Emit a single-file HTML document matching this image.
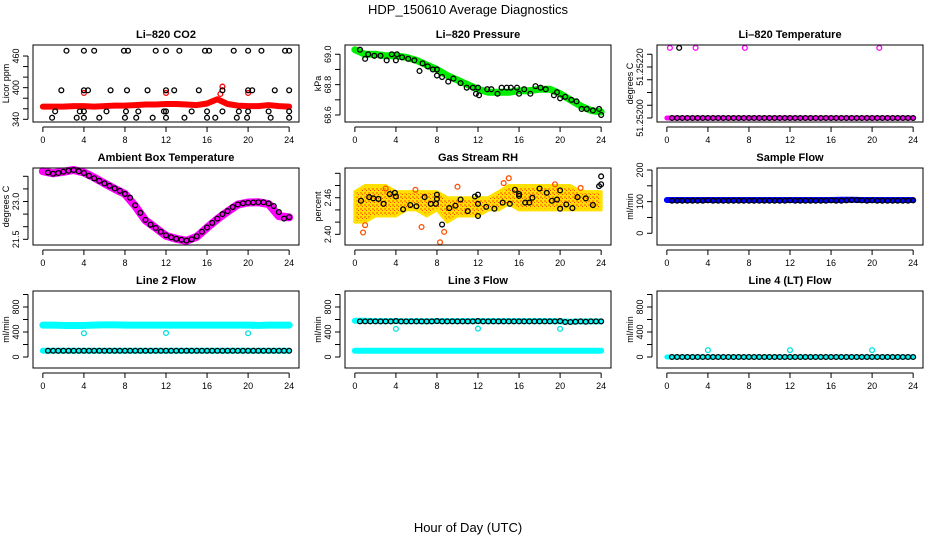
<!DOCTYPE html>
<html><head><meta charset="utf-8"><style>
body{margin:0;background:#fff}
svg text{font-family:"Liberation Sans",Arial,sans-serif}
</style></head><body>
<svg id="chart" width="936" height="540" viewBox="0 0 936 540" xmlns="http://www.w3.org/2000/svg">
<defs>
<pattern id="rhpat" width="4" height="4" patternUnits="userSpaceOnUse"><rect width="4" height="4" fill="#ffe000"/><rect x="0" y="0" width="2" height="2" fill="#ff9a00"/><rect x="2" y="2" width="1" height="1" fill="#ff4000"/></pattern>
</defs>
<text x="468" y="14" font-size="13" text-anchor="middle">HDP_150610  Average Diagnostics</text>
<text x="468" y="532" font-size="13" text-anchor="middle">Hour of Day (UTC)</text>
</svg>
<script>
// shared x categories
const bandHours=[0,1,2,3,4,5,6,7,8,9,10,11,12,13,14,15,16,17,18,19,20,21,22,23,24];
const halfHours=[0.5,1,1.5,2,2.5,3,3.5,4,4.5,5,5.5,6,6.5,7,7.5,8,8.5,9,9.5,10,10.5,11,11.5,12,12.5,13,13.5,14,14.5,15,15.5,16,16.5,17,17.5,18,18.5,19,19.5,20,20.5,21,21.5,22,22.5,23,23.5,24];
const xTicks=[0,4,8,12,16,20,24];
// CO2
const co2Band=[364,364,364,365,365,364,365,366,366,367,368,368,369,369,368,367,370,378,369,366,365,365,367,365,364];
const co2RedHours=[4,12,17.3,17.5,20];
const co2RedVals=[390,390,388,402,390];
const co2BlackHours=[2.3,4,5,7.9,8.3,11,12,13.3,15.8,16.2,18.6,20,21.3,23.6,24,1.8,4,4.4,6.6,8.2,10.2,12,12.8,15.2,17.5,20,20.4,22.6,24,1.2,3.6,4,6.2,8.1,9.3,11.8,12,14.5,16,17.5,19.1,20,22,24,0.9,3.3,4,5.5,8,9.1,10.7,12,13.8,16,16.8,18.9,19.9,22.2,24];
const co2BlackVals=[470,470,470,470,470,470,470,470,470,470,470,470,470,470,470,395,395,395,395,395,395,395,395,395,395,395,395,395,395,355,355,355,355,355,355,355,355,355,355,355,355,355,355,355,343,343,343,343,343,343,343,343,343,343,343,343,343,343,343];
// Pressure
const presBand=[69.03,69.0,69.0,68.99,68.99,68.98,68.96,68.93,68.90,68.86,68.83,68.80,68.77,68.75,68.75,68.75,68.76,68.76,68.77,68.77,68.74,68.70,68.66,68.63,68.62];
const presBlackHours=[0.5,1,1.3,1.9,2.5,3.1,3.6,4,4.1,4.6,5.2,5.8,6.3,6.6,7.1,7.6,8,8,8.5,9.1,9.6,10.3,10.9,11.5,12,11.8,12.1,12.9,13.3,13.9,14.3,14.8,15.2,15.8,16,16.5,17.1,17.6,18.1,18.6,19.4,19.7,20,20.5,21.1,21.6,22.1,22.6,23.2,23.8,24];
const presBlackVals=[69.03,68.97,69.0,68.99,68.99,68.96,69.0,68.96,69.0,68.98,68.97,68.96,68.89,68.94,68.92,68.9,68.86,68.9,68.85,68.82,68.84,68.81,68.78,68.78,68.78,68.74,68.73,68.77,68.77,68.74,68.78,68.78,68.78,68.78,68.74,68.77,68.74,68.79,68.78,68.77,68.73,68.75,68.71,68.72,68.7,68.69,68.64,68.64,68.63,68.64,68.6];
// Li-820 temperature
const tempBand=[51.252,51.252,51.252,51.252,51.252,51.252,51.252,51.252,51.252,51.252,51.252,51.252,51.252,51.252,51.252,51.252,51.252,51.252,51.252,51.252,51.252,51.252,51.252,51.252,51.252];
const tempPinkHours=[0.3,2.8,7.6,20.7];
const tempPinkVals=[51.252275,51.252275,51.252275,51.252275];
const tempBlackHours=[1.2];
const tempBlackVals=[51.252275];
const tempHalfVals=[51.252,51.252,51.252,51.252,51.252,51.252,51.252,51.252,51.252,51.252,51.252,51.252,51.252,51.252,51.252,51.252,51.252,51.252,51.252,51.252,51.252,51.252,51.252,51.252,51.252,51.252,51.252,51.252,51.252,51.252,51.252,51.252,51.252,51.252,51.252,51.252,51.252,51.252,51.252,51.252,51.252,51.252,51.252,51.252,51.252,51.252,51.252,51.252];
// Ambient box temperature
const ambBand=[24.2,24.12,24.18,24.25,24.15,23.95,23.72,23.5,23.3,22.82,22.25,21.95,21.64,21.52,21.44,21.6,21.96,22.3,22.6,22.88,22.96,22.97,22.9,22.42,22.37];
const ambBlack=[24.15,24.1,24.13,24.18,24.22,24.25,24.2,24.13,24.02,23.92,23.82,23.72,23.62,23.52,23.42,23.3,23.15,22.85,22.55,22.27,22.08,21.95,21.8,21.66,21.58,21.52,21.48,21.45,21.5,21.62,21.8,21.97,22.15,22.32,22.5,22.62,22.78,22.88,22.93,22.95,22.96,22.97,22.97,22.92,22.82,22.58,22.32,22.38];
// Gas stream RH
const rhLow=[2.42,2.42,2.43,2.43,2.43,2.44,2.44,2.43,2.44,2.42,2.43,2.43,2.43,2.44,2.44,2.45,2.44,2.44,2.44,2.44,2.44,2.44,2.44,2.44,2.44];
const rhHigh=[2.47,2.48,2.48,2.48,2.47,2.47,2.47,2.47,2.47,2.46,2.46,2.46,2.46,2.46,2.47,2.48,2.48,2.48,2.48,2.48,2.48,2.48,2.47,2.47,2.47];
const rhOrangeHours=[0.8,8.3,8.7,15.0,3.0,5.9,10.0,14.5,1.0,6.5,19.5,22.0];
const rhOrangeVals=[2.403,2.387,2.404,2.492,2.475,2.473,2.478,2.484,2.415,2.412,2.482,2.476];
const rhBlackHours=[0.6,1.4,1.8,2.3,2.8,3.4,3.9,4,4.7,5.4,6,6.8,7.4,7.9,8,8,8.5,9.2,9.8,10.3,11,11.7,12,12,12,12.8,13.6,14.4,15.1,15.6,16,16,16.6,17,17.3,18,18.7,19.2,19.7,20,20,20.6,21.2,21.7,22.5,23.2,23.8,24,24];
const rhBlackVals=[2.455,2.461,2.459,2.458,2.45,2.466,2.468,2.462,2.441,2.448,2.446,2.461,2.45,2.45,2.458,2.465,2.416,2.443,2.447,2.457,2.438,2.462,2.465,2.45,2.43,2.445,2.442,2.452,2.45,2.473,2.466,2.463,2.452,2.452,2.46,2.475,2.468,2.455,2.457,2.472,2.442,2.449,2.443,2.461,2.459,2.448,2.479,2.482,2.495];
// Sample flow
const sampBand=[105,105,105,105,105,105,105,105,105,105,105,105,105,105,105,105,105,106,106,105,105,105,105,105,105];
const sampBlack=[103,103,103,103,103,103,103,104,103,103,103,103,103,103,103,103,103,103,103,103,103,103,103,104,103,103,103,103,103,103,103,104,103,103,104,105,105,104,103,104,103,103,103,103,103,103,103,104];
// Line flows
const l2BandHi=[510,510,505,505,505,510,515,515,510,510,510,510,510,510,510,510,510,510,510,510,510,505,510,510,510];
const l2BandLo=[100,100,100,100,100,100,100,100,100,100,100,100,100,100,100,100,100,100,100,100,100,100,100,100,100];
const l2CyanHours=[4,12,20];
const l2CyanVals=[380,385,380];
const l2Black=[100,100,100,100,100,100,100,100,100,100,100,100,100,100,100,100,100,100,100,100,100,100,100,100,100,100,100,100,100,100,100,100,100,100,100,100,100,100,100,100,100,100,100,100,100,100,100,100];
const l3BandHi=[580,580,575,575,575,570,575,570,575,575,575,575,575,575,575,575,575,575,575,575,570,565,570,570,570];
const l3BandLo=[100,100,100,100,100,100,100,100,100,100,100,100,100,100,100,100,100,100,100,100,100,100,100,100,100];
const l3CyanHours=[4,12,20];
const l3CyanVals=[450,455,450];
const l3Black=[570,570,570,570,570,570,570,575,570,570,570,570,570,570,570,575,570,570,570,570,570,570,570,575,570,570,570,570,570,570,570,570,570,570,570,570,570,570,570,575,560,560,565,570,565,570,570,570];
const l4Band=[0,0,0,0,0,0,0,0,0,0,0,0,0,0,0,0,0,0,0,0,0,0,0,0,0];
const l4CyanHours=[4,12,20];
const l4CyanVals=[110,110,110];
const l4Black=[0,0,0,0,0,0,0,0,0,0,0,0,0,0,0,0,0,0,0,0,0,0,0,0,0,0,0,0,0,0,0,0,0,0,0,0,0,0,0,0,0,0,0,0,0,0,0,0];

const NS="http://www.w3.org/2000/svg";
const svg=document.getElementById('chart');
function mk(tag,attrs,parent){const e=document.createElementNS(NS,tag);for(const k in attrs)e.setAttribute(k,attrs[k]);(parent||svg).appendChild(e);return e;}

function panel(cfg){
  const x0=33+312*cfg.col, x1=299+312*cfg.col, y0=45+123*cfg.row, y1=122+123*cfg.row;
  const g=mk('g',{});
  
  
  const sx=h=>x0+(h+0.96)/25.92*(x1-x0);
  const sy=v=>y1-(v-cfg.ymin)/(cfg.ymax-cfg.ymin)*(y1-y0);
  const t=mk('text',{x:(x0+x1)/2,y:y0-7,'font-size':11,'font-weight':'bold','text-anchor':'middle'},g);
  t.textContent=cfg.title;
  
  
  const clip=mk('g',{},g);
  cfg.draw(clip,sx,sy);
  const box=mk('rect',{x:x0,y:y0,width:x1-x0,height:y1-y0,fill:'none',stroke:'#000','stroke-width':1},g);
  
  
  const xa=mk('g',{},g);
  
  
  mk('line',{x1:sx(xTicks[0]),x2:sx(xTicks[xTicks.length-1]),y1:y1+5,y2:y1+5,stroke:'#000'},xa);
  xTicks.forEach(v=>{
    mk('line',{x1:sx(v),x2:sx(v),y1:y1+5,y2:y1+10,stroke:'#000'},xa);
    const l=mk('text',{x:sx(v),y:y1+21,'font-size':9,'text-anchor':'middle'},xa);
    l.textContent=v;
  });
  const ya=mk('g',{},g);
  
  
  const ax=x0-5;
  mk('line',{x1:ax,x2:ax,y1:sy(cfg.yTicks[0]),y2:sy(cfg.yTicks[cfg.yTicks.length-1]),stroke:'#000'},ya);
  cfg.yTicks.forEach(v=>mk('line',{x1:ax-5,x2:ax,y1:sy(v),y2:sy(v),stroke:'#000'},ya));
  cfg.yLabels.forEach((v,i)=>{
    const yy=sy(v);
    const l=mk('text',{x:ax-9,y:yy,'font-size':9,'text-anchor':'middle',transform:`rotate(-90 ${ax-9} ${yy})`},ya);
    l.textContent=cfg.yLabelText[i];
  });
  const yt=mk('text',{x:x0-24,y:(y0+y1)/2,'font-size':9,'text-anchor':'middle',transform:`rotate(-90 ${x0-24} ${(y0+y1)/2})`},ya);
  yt.textContent=cfg.ylab;
  
  
}
function band(g,sx,sy,hours,vals,color,w,name){
  const p=mk('polyline',{points:hours.map((h,i)=>sx(h)+','+sy(vals[i])).join(' '),fill:'none',stroke:color,'stroke-width':w,'stroke-linejoin':'round','stroke-linecap':'round'},g);
  
  
}
function pts(g,sx,sy,hours,vals,color,name){
  const gg=mk('g',{},g);
  
  
  hours.forEach((h,i)=>{mk('circle',{cx:sx(h),cy:sy(vals[i]),r:2.4,fill:'none',stroke:color,'stroke-width':1.3},gg);});
}

panel({name:'co2-panel',col:0,row:0,title:'Li\u2013820 CO2',ylab:'Licor ppm',ymin:334.9,ymax:480.9,
 yTicks:[340,360,380,400,420,440,460],yLabels:[340,400,460],yLabelText:['340','400','460'],
 draw:(g,sx,sy)=>{band(g,sx,sy,bandHours,co2Band,'#ff0000',6,'co2-band');
  pts(g,sx,sy,co2RedHours,co2RedVals,'#ff0000','co2-red-points');
  pts(g,sx,sy,co2BlackHours,co2BlackVals,'#000','co2-black-points');}});
panel({name:'pressure-panel',col:1,row:0,title:'Li\u2013820 Pressure',ylab:'kPa',ymin:68.554,ymax:69.061,
 yTicks:[68.6,68.7,68.8,68.9,69.0],yLabels:[68.6,68.8,69.0],yLabelText:['68.6','68.8','69.0'],
 draw:(g,sx,sy)=>{band(g,sx,sy,bandHours,presBand,'#00ee00',7,'pressure-band');
  pts(g,sx,sy,presBlackHours,presBlackVals,'#000','pressure-black-points');}});
panel({name:'li820-temp-panel',col:2,row:0,title:'Li\u2013820 Temperature',ylab:'degrees C',ymin:51.2519843,ymax:51.2522863,
 yTicks:[51.252,51.25205,51.2521,51.25215,51.2522,51.25225],yLabels:[51.252,51.2522],yLabelText:['51.25200','51.25220'],
 draw:(g,sx,sy)=>{band(g,sx,sy,bandHours,tempBand,'#ff00ff',5,'temp-band');
  pts(g,sx,sy,halfHours,tempHalfVals,'#000','temp-black-points');
  pts(g,sx,sy,tempBlackHours,tempBlackVals,'#000','temp-black-outlier');
  pts(g,sx,sy,tempPinkHours,tempPinkVals,'#ff00ff','temp-pink-outliers');}});
panel({name:'ambient-panel',col:0,row:1,title:'Ambient Box Temperature',ylab:'degrees C',ymin:21.274,ymax:24.329,
 yTicks:[21.5,22,22.5,23,23.5,24],yLabels:[21.5,23],yLabelText:['21.5','23.0'],
 draw:(g,sx,sy)=>{band(g,sx,sy,bandHours,ambBand,'#ff00ff',8,'ambient-band');
  pts(g,sx,sy,halfHours,ambBlack,'#000','ambient-black-points');}});
panel({name:'rh-panel',col:1,row:1,title:'Gas Stream RH',ylab:'percent',ymin:2.3825,ymax:2.5087,
 yTicks:[2.40,2.42,2.44,2.46,2.48,2.50],yLabels:[2.40,2.46],yLabelText:['2.40','2.46'],
 draw:(g,sx,sy)=>{
  const poly=bandHours.map((h,i)=>sx(h)+','+sy(rhHigh[i])).concat(bandHours.slice().reverse().map((h,i)=>sx(h)+','+sy(rhLow[rhLow.length-1-i])));
  const p=mk('polygon',{points:poly.join(' '),fill:'url(#rhpat)',stroke:'#ffe000','stroke-width':3,'stroke-linejoin':'round'},g);
  
  
  pts(g,sx,sy,rhOrangeHours,rhOrangeVals,'#ff5000','rh-orange-points');
  pts(g,sx,sy,rhBlackHours,rhBlackVals,'#000','rh-black-points');}});
panel({name:'sample-flow-panel',col:2,row:1,title:'Sample Flow',ylab:'ml/min',ymin:-37,ymax:206.3,
 yTicks:[0,50,100,150,200],yLabels:[0,100,200],yLabelText:['0','100','200'],
 draw:(g,sx,sy)=>{band(g,sx,sy,bandHours,sampBand,'#0000ff',6,'sample-band');
  pts(g,sx,sy,halfHours,sampBlack,'#000','sample-black-points');}});
const flowTicks=[0,200,400,600,800,1000];
panel({name:'line2-panel',col:0,row:2,title:'Line 2 Flow',ylab:'ml/min',ymin:-176,ymax:1056,
 yTicks:flowTicks,yLabels:[0,400,800],yLabelText:['0','400','800'],
 draw:(g,sx,sy)=>{band(g,sx,sy,bandHours,l2BandHi,'#00ffff',7,'line2-cyan-high');
  band(g,sx,sy,bandHours,l2BandLo,'#00ffff',6,'line2-cyan-low');
  pts(g,sx,sy,l2CyanHours,l2CyanVals,'#00e0e0','line2-cyan-outliers');
  pts(g,sx,sy,halfHours,l2Black,'#000','line2-black-points');}});
panel({name:'line3-panel',col:1,row:2,title:'Line 3 Flow',ylab:'ml/min',ymin:-176,ymax:1056,
 yTicks:flowTicks,yLabels:[0,400,800],yLabelText:['0','400','800'],
 draw:(g,sx,sy)=>{band(g,sx,sy,bandHours,l3BandHi,'#00ffff',6,'line3-cyan-high');
  band(g,sx,sy,bandHours,l3BandLo,'#00ffff',6,'line3-cyan-low');
  pts(g,sx,sy,l3CyanHours,l3CyanVals,'#00e0e0','line3-cyan-outliers');
  pts(g,sx,sy,halfHours,l3Black,'#000','line3-black-points');}});
panel({name:'line4-panel',col:2,row:2,title:'Line 4 (LT) Flow',ylab:'ml/min',ymin:-176,ymax:1056,
 yTicks:flowTicks,yLabels:[0,400,800],yLabelText:['0','400','800'],
 draw:(g,sx,sy)=>{band(g,sx,sy,bandHours,l4Band,'#00ffff',5,'line4-cyan-band');
  pts(g,sx,sy,l4CyanHours,l4CyanVals,'#00e0e0','line4-cyan-outliers');
  pts(g,sx,sy,halfHours,l4Black,'#000','line4-black-points');}});
</script>
</body></html>
